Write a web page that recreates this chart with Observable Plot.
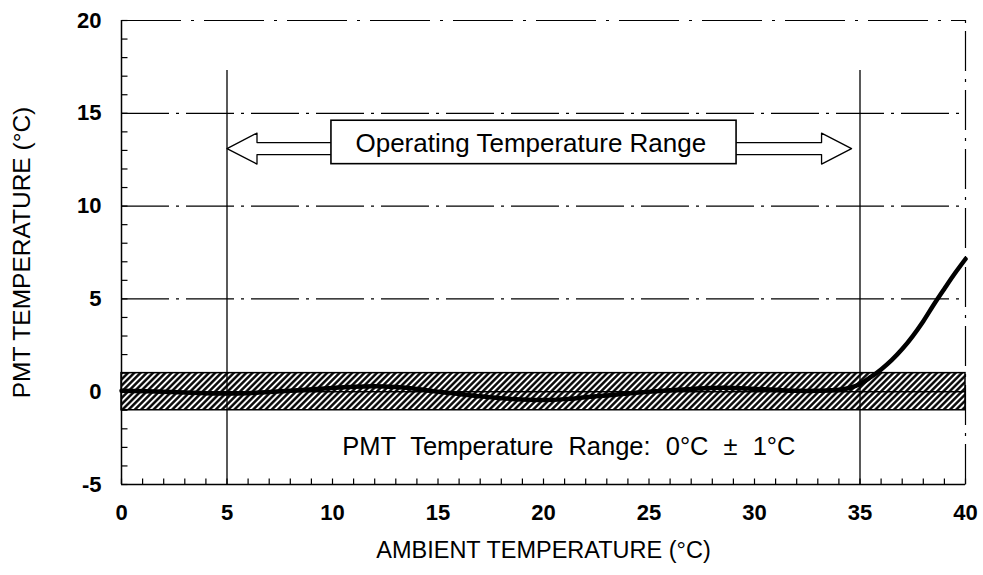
<!DOCTYPE html>
<html><head><meta charset="utf-8">
<script src="https://cdn.jsdelivr.net/npm/d3@7"></script>
<script src="https://cdn.jsdelivr.net/npm/@observablehq/plot@0.6"></script>
<style>body{margin:0;background:#fff}</style>
</head><body>
<svg width="0" height="0" style="position:absolute"><defs>
<pattern id="hatch" patternUnits="userSpaceOnUse" width="4.4" height="4.4" patternTransform="rotate(45)">
<rect width="4.4" height="4.4" fill="#fff"/><line x1="2.2" y1="-1" x2="2.2" y2="6" stroke="#000" stroke-width="2.4"/>
</pattern></defs></svg>
<div id="chart"></div>
<script>
// Data
const curveX = [0, 2, 4, 5, 6, 8, 10, 11, 12, 13, 14, 15, 16, 17, 18, 19, 20, 21, 22, 23, 24, 25, 26, 27, 28, 29, 30, 31, 32, 33, 34, 34.5, 35, 35.5, 36, 36.5, 37, 37.5, 38, 38.5, 39, 39.5, 40];
const curveY = [0.05, 0.0, -0.08, -0.1, -0.08, 0.05, 0.2, 0.27, 0.3, 0.25, 0.15, 0.0, -0.12, -0.25, -0.35, -0.42, -0.45, -0.4, -0.3, -0.2, -0.1, 0.0, 0.08, 0.15, 0.2, 0.2, 0.15, 0.1, 0.05, 0.05, 0.1, 0.2, 0.42, 0.78, 1.2, 1.7, 2.3, 3.0, 3.8, 4.7, 5.55, 6.38, 7.15];
const xTicks = [0, 5, 10, 15, 20, 25, 30, 35, 40];
const yTicks = [-5, 0, 5, 10, 15, 20];
const xMinor = d3.range(0, 41, 1);
const yMinor = d3.range(-5, 21, 1);
const gridY = [5, 10, 15];
const opRange = [5, 35];
const opLineTop = 17.3;
const arrowEnds = [5, 34.6];
const arrowY = 13.1;
const boxX = [9.95, 29.15];
const boxY = [12.26, 14.6];
const opLabel = "Operating Temperature Range";
const opLabelPos = [19.4, 13.35];
const pmtBand = [-1, 1];
const pmtLabel = "PMT Temperature Range: 0°C ± 1°C";
const pmtLabelPos = [21.2, -2.95];
const xTitle = "AMBIENT TEMPERATURE (°C)";
const yTitle = "PMT TEMPERATURE (°C)";

// Layout
const W = 983, H = 575, mL = 121, mR = 18, mT = 20, mB = 91;
const pxX = (W - mL - mR) / 40, pxY = (H - mT - mB) / 25;
const tickLen = 6;
const headL = 30 / pxX, headH = 15.5 / pxY, shaftH = 6 / pxY;
const [a0, a1] = arrowEnds;
const arrowPts = [
  [a0, arrowY], [a0 + headL, arrowY + headH], [a0 + headL, arrowY + shaftH],
  [a1 - headL, arrowY + shaftH], [a1 - headL, arrowY + headH], [a1, arrowY],
  [a1 - headL, arrowY - headH], [a1 - headL, arrowY - shaftH],
  [a0 + headL, arrowY - shaftH], [a0 + headL, arrowY - headH], [a0, arrowY]
];
const curve = curveX.map((x, i) => ({x, y: curveY[i]}));

const plot = Plot.plot({
  width: W, height: H, marginLeft: mL, marginRight: mR, marginTop: mT, marginBottom: mB,
  style: {fontFamily: "'Liberation Sans', Arial, sans-serif", fontSize: "22px", fontWeight: "bold", background: "white", color: "black"},
  x: {domain: [0, 40], ticks: xTicks, tickSize: 0, tickPadding: 20, label: null, tickFormat: d => String(d)},
  y: {domain: [-5, 20], ticks: yTicks, tickSize: 0, tickPadding: 20, label: null, tickFormat: d => String(d)},
  marks: [
    Plot.rect([pmtBand], {x1: 0, x2: 40, y1: d => d[0], y2: d => d[1], fill: "url(#hatch)", stroke: "black", strokeWidth: 1.5}),
    Plot.ruleY([0], {x1: 0, x2: 40, stroke: "black", strokeWidth: 1.5}),
    Plot.ruleY(gridY, {x1: 0, x2: 40, strokeDasharray: "48,7,3,7", strokeWidth: 1.2}),
    Plot.ruleY([20], {x1: 0, x2: 40, strokeDasharray: "60,10,3,10", strokeWidth: 1.2}),
    Plot.ruleX([40], {y1: -5, y2: 20, strokeDasharray: "40,8,3,8", strokeWidth: 1.2}),
    Plot.ruleX([0], {y1: -5, y2: 20, strokeWidth: 1.5}),
    Plot.ruleY([-5], {x1: 0, x2: 40, strokeWidth: 1.5}),
    Plot.link(xMinor, {x1: d => d, x2: d => d, y1: -5, y2: -5 + tickLen / pxY, strokeWidth: 1.2}),
    Plot.link(yMinor, {x1: 0, x2: tickLen / pxX, y1: d => d, y2: d => d, strokeWidth: 1.2}),
    Plot.ruleX(opRange, {y1: -5, y2: opLineTop, strokeWidth: 1.3}),
    Plot.line(curve, {x: "x", y: "y", curve: "catmull-rom", strokeWidth: 4.5}),
    Plot.line(arrowPts, {x: d => d[0], y: d => d[1], fill: "white", stroke: "black", strokeWidth: 1.3}),
    Plot.rect([opLabel], {x1: boxX[0], x2: boxX[1], y1: boxY[0], y2: boxY[1], fill: "white", stroke: "black", strokeWidth: 1.6}),
    Plot.text([opLabel], {x: opLabelPos[0], y: opLabelPos[1], fontSize: 26, fontWeight: "normal"}),
    Plot.text([pmtLabel], {x: pmtLabelPos[0], y: pmtLabelPos[1], fontSize: 25.5, fontWeight: "normal"}),
    Plot.text([xTitle], {frameAnchor: "bottom", dy: 73, fontSize: 23.5, fontWeight: "normal"}),
    Plot.text([yTitle], {frameAnchor: "left", textAnchor: "middle", dx: -99, rotate: -90, fontSize: 24.5, fontWeight: "normal"})
  ]
});
d3.select(plot).selectAll("text").filter(function () { return this.textContent === pmtLabel; }).style("word-spacing", "8px");
document.getElementById("chart").appendChild(plot);
</script>
</body></html>
